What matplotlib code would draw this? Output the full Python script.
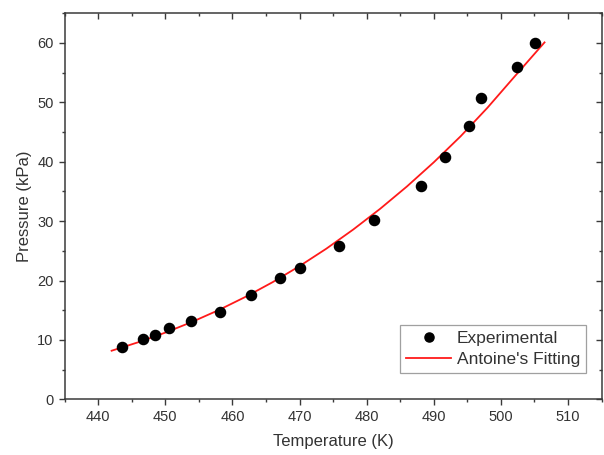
import matplotlib
matplotlib.use("Agg")
import matplotlib.pyplot as plt
from matplotlib.ticker import MultipleLocator

exp_T = [443.5, 446.7, 448.4, 450.6, 453.8, 458.1, 462.7, 467.1, 470.0,
         475.9, 481.1, 488.1, 491.6, 495.3, 497.0, 502.4, 505.1]
exp_P = [8.85, 10.1, 10.8, 12.05, 13.2, 14.75, 17.55, 20.4, 22.1,
         25.75, 30.2, 36.0, 40.8, 46.0, 50.75, 56.0, 60.0]

# Antoine fitting curve
fit_T = [442.0, 446.0, 450.0, 454.0, 458.0, 462.0, 466.0, 470.0, 474.0,
         478.0, 482.0, 486.0, 490.0, 494.0, 498.0, 502.0, 506.5]
fit_P = [8.18, 9.62, 11.23, 13.04, 15.05, 17.28, 19.73, 22.43, 25.37,
         28.59, 32.07, 35.84, 39.91, 44.29, 49.1, 54.3, 60.1]

x_ticks = [440, 450, 460, 470, 480, 490, 500, 510]
y_ticks = [0, 10, 20, 30, 40, 50, 60]

plt.rcParams['font.family'] = ['Liberation Sans', 'DejaVu Sans']
text_color = '#333333'
spine_color = '#3a3a3a'

fig = plt.figure(figsize=(6.04, 4.55), dpi=100)
ax = fig.add_axes([0.107, 0.1224, 0.889, 0.8484])

ax.plot(exp_T, exp_P, 'o', color='black', markersize=7.3, label='Experimental', zorder=3)
ax.plot(fit_T, fit_P, '-', color='#ff1a1a', linewidth=1.3, label="Antoine's Fitting", zorder=2)

ax.set_xlim(435, 515)
ax.set_ylim(0, 65)
ax.set_xticks(x_ticks)
ax.set_yticks(y_ticks)
ax.xaxis.set_minor_locator(MultipleLocator(5))
ax.yaxis.set_minor_locator(MultipleLocator(5))

for s in ax.spines.values():
    s.set_color(spine_color)
    s.set_linewidth(1.1)

ax.tick_params(which='both', color=spine_color, width=1.0, labelcolor=text_color,
               labelsize=10.5)
ax.tick_params(which='major', length=4.5)
ax.tick_params(which='minor', length=2.5)
ax.tick_params(which='both', bottom=True, left=True, direction='out')
ax.tick_params(which='both', top=True, right=True, labeltop=False, labelright=False)
# top/right ticks point inward
for t in ax.xaxis.get_major_ticks() + ax.xaxis.get_minor_ticks():
    t.tick2line.set_marker(3)
for t in ax.yaxis.get_major_ticks() + ax.yaxis.get_minor_ticks():
    t.tick2line.set_marker(0)

ax.set_xlabel('Temperature (K)', fontsize=12, color=text_color, labelpad=7)
ax.set_ylabel('Pressure (kPa)', fontsize=12, color=text_color, labelpad=4)

leg = ax.legend(loc='lower right', bbox_to_anchor=(0.971, 0.067), borderaxespad=0,
                fontsize=12.5, frameon=True, fancybox=False, edgecolor='#888888',
                handlelength=2.6, handletextpad=0.3, borderpad=0.35,
                labelspacing=0.35, markerscale=0.9)
leg.get_frame().set_linewidth(0.9)
for t in leg.get_texts():
    t.set_color(text_color)

fig.savefig('out.png', dpi=100)
